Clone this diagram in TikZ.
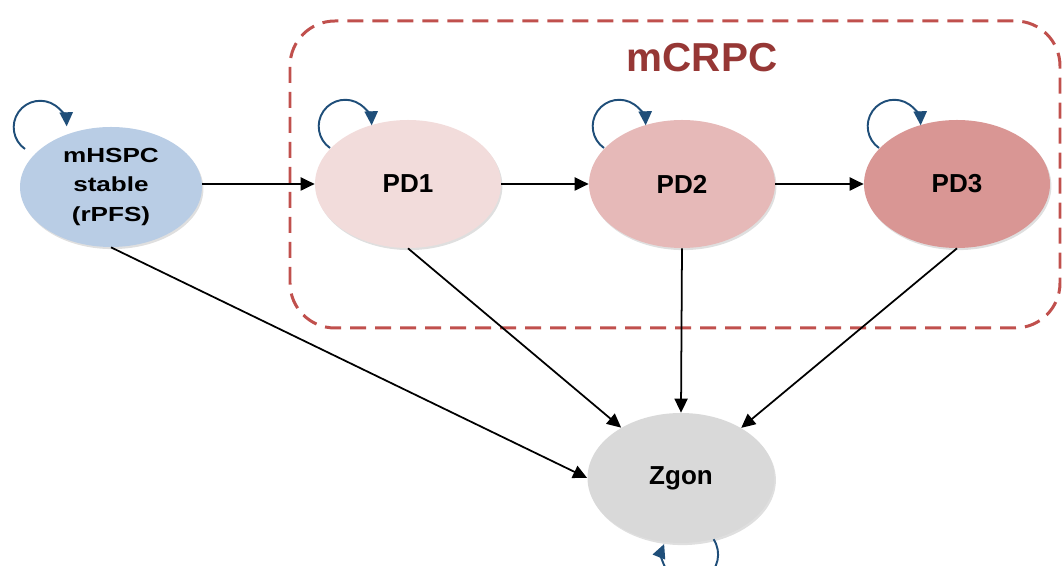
\documentclass[tikz,border=0pt]{standalone}
\usepackage{fontspec}
\setmainfont{Liberation Sans}
\newfontfamily\widesans[FakeStretch=1.28]{Liberation Sans}
\usepackage{tikz}
\usetikzlibrary{shapes.geometric,arrows.meta,shadows}

\definecolor{hspcblue}{RGB}{185,205,229}
\definecolor{pdone}{RGB}{242,220,219}
\definecolor{pdtwo}{RGB}{230,185,184}
\definecolor{pdthree}{RGB}{217,150,148}
\definecolor{zgongray}{RGB}{217,217,217}
\definecolor{loopblue}{RGB}{31,78,121}
\definecolor{boxred}{RGB}{192,80,77}
\definecolor{titlered}{RGB}{150,55,53}

\begin{document}
\begin{tikzpicture}[
    >={Triangle[length=8pt,width=7.5pt]},
    state/.style={ellipse, inner sep=0pt, minimum width=3.72cm, minimum height=2.56cm,
        font=\bfseries\fontsize{14.8}{17}\selectfont, align=center,
        drop shadow={shadow xshift=0.8pt, shadow yshift=-1.2pt, opacity=0.25}},
    trans/.style={->, line width=1pt},
    selfloop/.style={-{Triangle[length=8pt,width=7.5pt]}, draw=loopblue, line width=1.1pt}
]
\useasboundingbox (0,0) rectangle (21.26,11.32);

% mCRPC group
\draw[boxred, line width=1.7pt, dash pattern=on 0.32cm off 0.18cm, rounded corners=0.9cm]
    (5.8,4.76) rectangle (21.2,10.9);
\node[text=titlered, font=\bfseries\fontsize{23}{26}\selectfont] (mcrpc) at (14.04,10.16) {mCRPC};

% States
\node[state, fill=hspcblue, minimum width=3.64cm, minimum height=2.4cm,
      font=\widesans\bfseries\fontsize{11.6}{17}\selectfont] (mhspc) at (2.22,7.58) {mHSPC\\stable\\(rPFS)};
\node[state, fill=pdone] (pd1) at (8.16,7.64) {PD1};
\node[state, fill=pdtwo] (pd2) at (13.64,7.64) {PD2};
\node[state, fill=pdthree] (pd3) at (19.14,7.64) {PD3};
\node[state, fill=zgongray, minimum width=3.74cm, minimum height=2.6cm] (zgon) at (13.62,1.76) {Zgon};

% Transitions
\draw[trans] (mhspc.east |- pd1) -- (pd1);
\draw[trans] (pd1) -- (pd2);
\draw[trans] (pd2) -- (pd3);
\draw[trans] (mhspc.south) -- (zgon.west);
\draw[trans] (pd1.south) -- (zgon);
\draw[trans] (pd2.south) -- (zgon.north);
\draw[trans] (pd3.south) -- (zgon);

% Self loops
\draw[selfloop] (mhspc.center) ++(-1.72,0.76) arc[start angle=235, end angle=2, radius=0.53cm];
\foreach \s in {pd1,pd2,pd3}
    \draw[selfloop] (\s.center) ++(-1.56,0.72) arc[start angle=235, end angle=2, radius=0.53cm];
\draw[selfloop] (zgon.-62) arc[start angle=33, end angle=-202, radius=0.56cm];

\end{tikzpicture}
\end{document}
